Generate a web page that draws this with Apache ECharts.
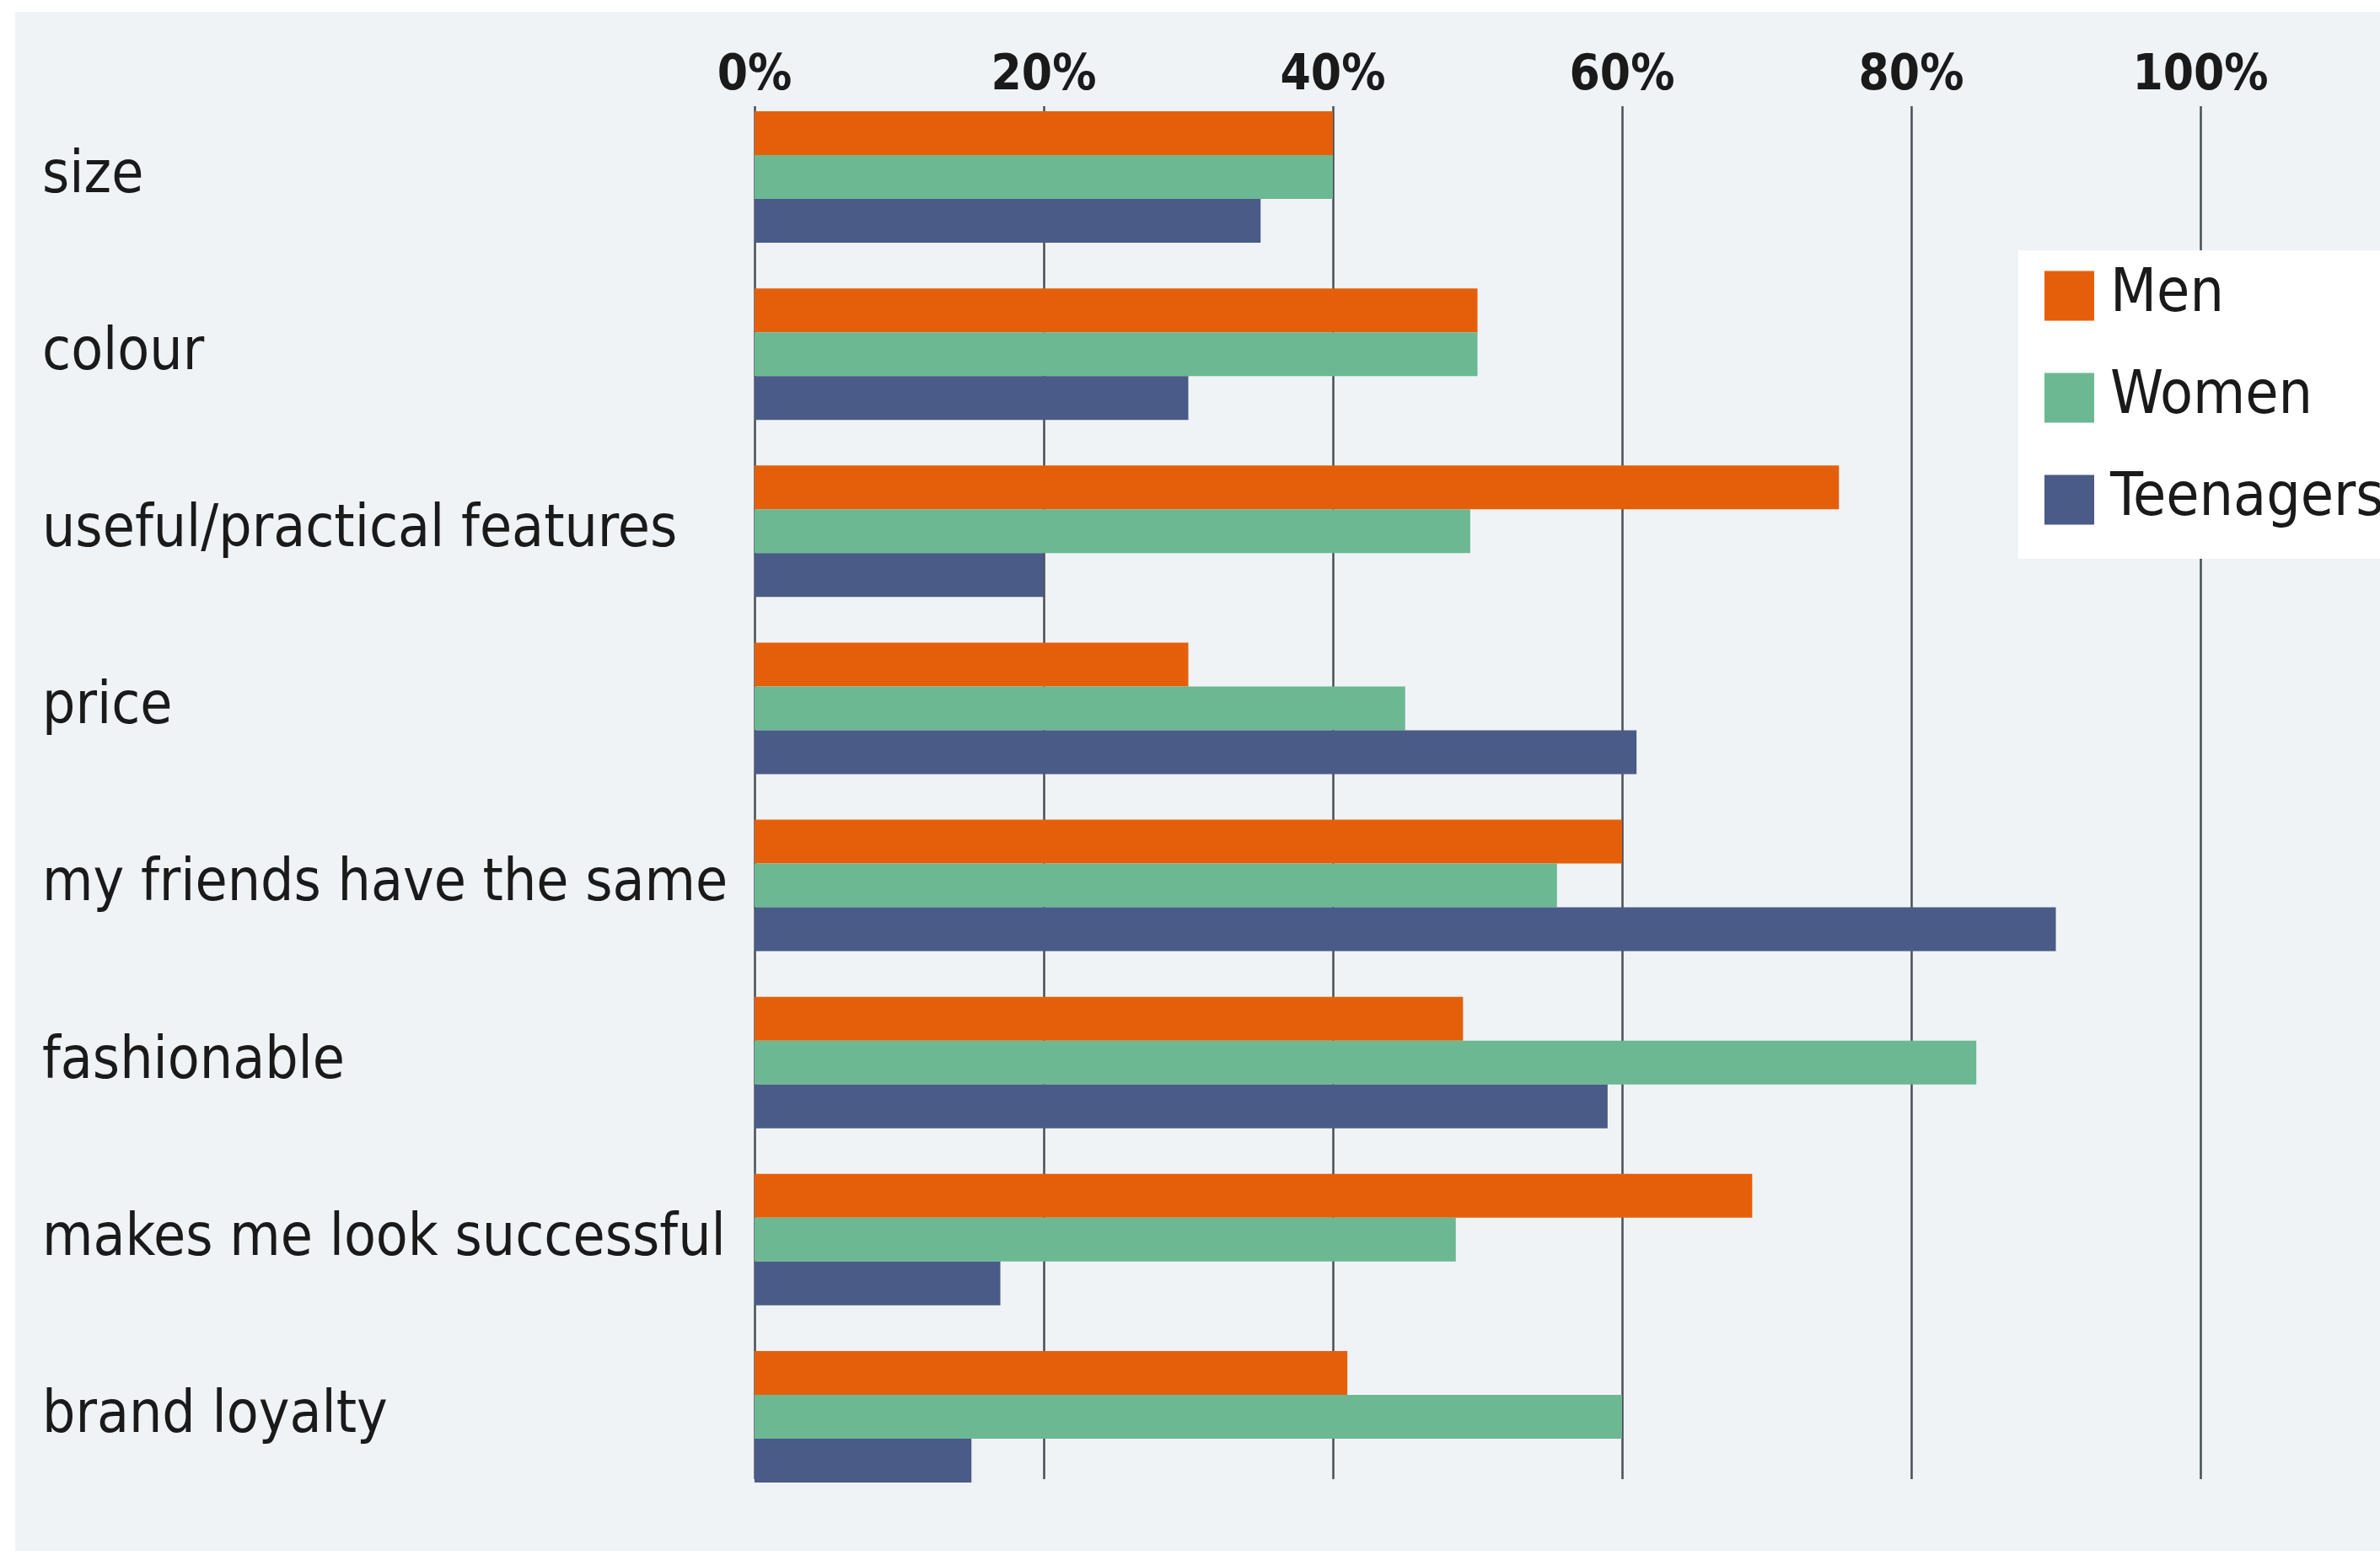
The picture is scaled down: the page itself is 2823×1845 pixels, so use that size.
<!DOCTYPE html>
<html>
<head>
<meta charset="utf-8">
<script src="https://cdn.jsdelivr.net/npm/echarts@6/dist/echarts.min.js"></script>
<style>
html,body{margin:0;padding:0;background:#fff;}
#echarts_bar{width:2823px;height:1845px;}
</style>
</head>
<body>
<div id="echarts_bar"></div>
<script>
var categories = ['size', 'colour', 'useful/practical features', 'price', 'my friends have the same', 'fashionable', 'makes me look successful', 'brand loyalty'];
var seriesNames = ['Men', 'Women', 'Teenagers'];
var menValues = [40, 50, 75, 30, 60, 49, 69, 41];
var womenValues = [40, 50, 49.5, 45, 55.5, 84.5, 48.5, 60];
var teenValues = [35, 30, 20, 61, 90, 59, 17, 15];
var tickLabels = ['0%', '20%', '40%', '60%', '80%', '100%'];

get_bar_echarts();

function get_bar_echarts() {
    var myChart = echarts.init(document.getElementById('echarts_bar'));
    var font = '"Liberation Sans Narrow", "DejaVu Sans Condensed", "Liberation Sans", sans-serif';
    var colors = ['#e55f0b', '#6cb893', '#4a5b87'];
    var values = [menValues, womenValues, teenValues];

    var series = [];
    for (var i = 0; i < seriesNames.length; i++) {
        series.push({
            name: seriesNames[i],
            type: 'bar',
            xAxisIndex: 1,
            yAxisIndex: 1,
            barWidth: 52,
            barGap: '0%',
            itemStyle: {color: colors[i]},
            data: values[i]
        });
    }

  option = {
    backgroundColor: '#ffffff',
    animation: false,
    color: colors,
    graphic: [
        {
            type: 'rect',
            left: 18, top: 14,
            shape: {width: 2805, height: 1826},
            style: {fill: '#eff3f6'},
            z: -10
        }
    ],
    legend: {
        orient: 'vertical',
        left: 2394,
        top: 297,
        backgroundColor: '#ffffff',
        padding: [18, 60, 34, 31],
        itemWidth: 59,
        itemHeight: 59,
        itemGap: 49,
        icon: 'rect',
        data: seriesNames,
        textStyle: {fontFamily: font, fontSize: 71, lineHeight: 72, color: '#1a1a1a', padding: [0, 0, 0, 14]}
    },
    grid: [
        // grid for the vertical lines
        {left: 895, right: 213, top: 126, bottom: 90},
        // grid for the bars
        {left: 895, right: 213, top: 105, bottom: 59}
    ],
    xAxis: [
        {
            gridIndex: 0,
            type: 'value',
            position: 'top',
            min: 0, max: 100, interval: 20,
            axisLine: {show: false},
            axisTick: {show: false},
            splitLine: {show: true, lineStyle: {color: '#484e56', width: 2.5}},
            axisLabel: {
                margin: 6,
                fontFamily: font,
                fontWeight: 'bold',
                fontSize: 58,
                color: '#1a1a1a',
                formatter: function (v) { return tickLabels[v / 20]; }
            }
        },
        {
            gridIndex: 1,
            type: 'value',
            min: 0, max: 100,
            show: false
        }
    ],
    yAxis: [
        {gridIndex: 0, type: 'category', data: categories, inverse: true, show: false},
        {
            gridIndex: 1,
            type: 'category',
            data: categories,
            inverse: true,
            axisLine: {show: false},
            axisTick: {show: false},
            axisLabel: {
                align: 'left',
                margin: 845,
                padding: [8, 0, 0, 0],
                fontFamily: font,
                fontSize: 69,
                color: '#1a1a1a'
            }
        }
    ],
    series: series
  };

  myChart.setOption(option);
}
</script>
</body>
</html>
